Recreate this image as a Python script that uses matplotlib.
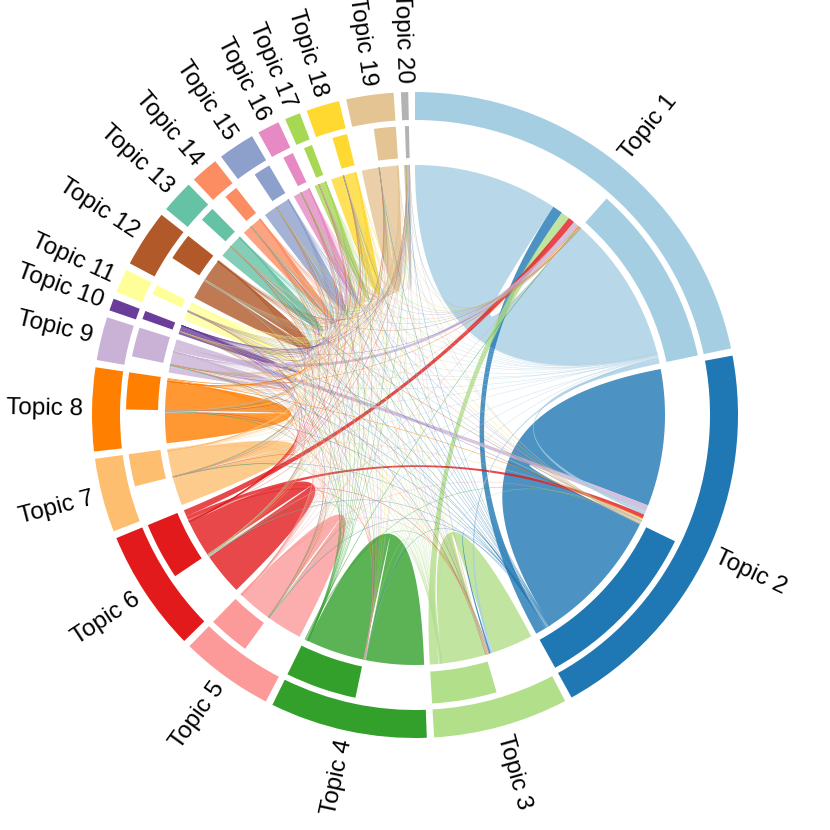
import numpy as np
import matplotlib
matplotlib.use('Agg')
import matplotlib.pyplot as plt
from matplotlib.patches import Wedge, Polygon

plt.rcParams['font.family'] = ['Liberation Sans', 'DejaVu Sans']

topics = ['Topic %d' % i for i in range(1, 21)]
colors = ['#A6CEE3', '#1F78B4', '#B2DF8A', '#33A02C', '#FB9A99', '#E31A1C', '#FDBF6F', '#FF7F00',
          '#CAB2D6', '#6A3D9A', '#FFFF99', '#B15928', '#66C2A5', '#FC8D62', '#8DA0CB', '#E78AC3',
          '#A6D854', '#FFD92F', '#E5C494', '#B3B3B3']

sizes = [78.1, 71.6, 24.3, 28.3, 16.8, 22.0, 13.3, 15.0, 7.8, 2.2,
         4.3, 10.3, 5.9, 5.0, 6.6, 4.0, 2.8, 6.0, 8.5, 1.3]
# width of the inner ring in each sector
rings = [36.6, 35.1, 13.0, 14.3, 8.3, 11.5, 6.5, 7.4, 5.9, 1.7,
         2.0, 5.4, 3.0, 2.8, 3.4, 2.1, 1.7, 3.0, 4.4, 0.8]
# first foot of the self link
self_out = [33.6, 31.8, 9.5, 13.5, 8.0, 9.8, 6.6, 7.1, 1.3, 0.5,
            1.9, 4.5, 2.7, 2.0, 3.0, 1.6, 1.0, 2.8, 3.9, 0.4]

# flows from one topic to topics 1..20
flow_t1 = [0, 2.4, 2.0, .16, .05, 1.5, .1, .2, 1.3, .02, .02, .05, .02, .02, .03, .02, .01, .03, .03, .01]
flow_t2 = [.9, 0, .15, .12, .1, .9, .15, .2, 1.4, .05, .08, .15, .08, .08, .1, .05, .03, .07, .08, .02]
flow_t3 = [.55, .35, 0, .12, .06, .14, .05, .1, .12, .02, .03, .06, .03, .03, .04, .02, .01, .03, .04, .01]
flow_t4 = [.1, .08, .08, 0, .03, .05, .02, .03, .02, .005, .005, .02, .01, .01, .01, .005, .005, .01, .01, .003]
flow_t5 = [.08, .08, .05, .05, 0, .05, .03, .04, .02, .005, .01, .02, .01, .01, .01, .005, .005, .01, .01, .002]
flow_t6 = [.12, .12, .08, .08, .05, 0, .05, .06, .03, .01, .01, .02, .01, .01, .01, .005, .005, .01, .015, .005]
flow_t7 = [.04, .04, .02, .02, .01, .02, 0, .02, .01, .002, .003, .005, .003, .002, .003, .002, .001, .002, .003, .001]
flow_t8 = [.09, .09, .05, .05, .02, .05, .03, 0, .03, .005, .005, .02, .01, .01, .01, .005, .005, .01, .01, .002]
flow_t9 = [.12, .12, .06, .06, .03, .06, .02, .04, 0, .005, .01, .02, .01, .01, .01, .005, .005, .01, .01, .002]
flow_t10 = [.04, .04, .02, .02, .01, .02, .01, .01, .01, 0, .002, .004, .002, .002, .002, .001, .001, .002, .002, .001]
flow_t11 = [.08, .08, .04, .04, .02, .04, .015, .02, .015, .003, 0, .01, .005, .005, .005, .003, .003, .005, .005, .001]
flow_t12 = [.08, .08, .04, .04, .02, .04, .015, .02, .015, .003, .005, 0, .005, .005, .005, .003, .003, .005, .005, .001]
flow_t13 = [.04, .04, .02, .02, .01, .02, .01, .01, .01, .002, .002, .005, 0, .003, .003, .002, .001, .003, .003, .001]
flow_t14 = [.04, .04, .02, .02, .01, .02, .01, .01, .01, .002, .002, .005, .003, 0, .003, .002, .001, .003, .003, .001]
flow_t15 = [.04, .04, .02, .02, .01, .02, .01, .01, .01, .002, .002, .005, .003, .003, 0, .002, .001, .003, .003, .001]
flow_t16 = [.06, .06, .03, .03, .015, .03, .01, .015, .01, .002, .003, .006, .003, .003, .003, 0, .002, .003, .003, .001]
flow_t17 = [.02, .02, .01, .01, .005, .01, .005, .005, .005, .001, .001, .002, .001, .001, .001, .001, 0, .001, .001, .001]
flow_t18 = [.04, .04, .02, .02, .01, .02, .01, .01, .01, .002, .002, .005, .003, .003, .003, .002, .001, 0, .003, .001]
flow_t19 = [.04, .04, .02, .02, .01, .02, .01, .01, .01, .002, .002, .005, .003, .003, .003, .002, .001, .003, 0, .001]
flow_t20 = [.02, .02, .01, .01, .005, .01, .005, .005, .005, .001, .001, .002, .001, .001, .001, .001, .001, .001, .001, 0]

flows = np.array([flow_t1, flow_t2, flow_t3, flow_t4, flow_t5, flow_t6, flow_t7, flow_t8, flow_t9, flow_t10,
                  flow_t11, flow_t12, flow_t13, flow_t14, flow_t15, flow_t16, flow_t17, flow_t18, flow_t19, flow_t20])

gap = 1.3
r_out, r_out_in = 323, 295
r_ring, r_ring_in = 289, 257
r_link = 250
r_label = 332


def point(theta, r=r_link):
    t = np.radians(theta)
    return np.column_stack([r * np.sin(t), r * np.cos(t)])


def bezier(th0, th1):
    # quadratic curve with its control point in the centre
    s = np.linspace(0, 1, 80)[:, None]
    return (1 - s) ** 2 * point(th0) + s ** 2 * point(th1)


def link(ax, a0, a1, b0, b1, color, alpha=0.8, lw=0.0):
    pts = [point(np.linspace(a0, a1, 20)), bezier(a1, b0), point(np.linspace(b0, b1, 20)), bezier(b1, a0)]
    ax.add_patch(Polygon(np.vstack(pts), closed=True, facecolor=color, edgecolor=color,
                         linewidth=lw, alpha=alpha))


fig = plt.figure(figsize=(8.3, 8.3), dpi=100)
ax = fig.add_axes([0, 0, 1, 1])
ax.set_xlim(-415, 415)
ax.set_ylim(-415, 415)
ax.axis('off')

# sector limits, clockwise from 12 o'clock
starts = []
pos = 0.0
for s in sizes:
    starts.append(pos)
    pos += s + gap
starts = np.array(starts)
ends = starts + np.array(sizes)

for i in range(20):
    ax.add_patch(Wedge((0, 0), r_out, 90 - ends[i], 90 - starts[i], width=r_out - r_out_in,
                       facecolor=colors[i], edgecolor='none'))
    ax.add_patch(Wedge((0, 0), r_ring, 90 - ends[i], 90 - (ends[i] - rings[i]), width=r_ring - r_ring_in,
                       facecolor=colors[i], edgecolor='none'))
    mid = (starts[i] + ends[i]) / 2
    x, y = point(mid, r_label)[0]
    if mid < 180:
        ax.text(x, y, topics[i], fontsize=17.5, rotation=90 - mid, rotation_mode='anchor', ha='left', va='center')
    else:
        ax.text(x, y, topics[i], fontsize=17.5, rotation=270 - mid, rotation_mode='anchor', ha='right', va='center')

# self links first
incoming = flows.sum(axis=0)
for i in range(20):
    link(ax, starts[i], starts[i] + self_out[i], ends[i] - rings[i], ends[i] - incoming[i], colors[i])

# feet of the links: outgoing after the self foot, incoming back from the sector end
out_pos = starts + np.array(self_out)
in_pos = ends.copy()
feet_in = {}
for j in range(20):
    for i in np.argsort(-flows[:, j]):
        w = flows[i, j]
        if w > 0:
            feet_in[(i, j)] = (in_pos[j] - w, in_pos[j])
            in_pos[j] -= w

for i in range(20):
    for j in np.argsort(-flows[i]):
        w = flows[i, j]
        if w > 0:
            b0, b1 = feet_in[(i, j)]
            # hairlines stay pale, the wide bands keep the full colour
            if w < 0.155:
                link(ax, out_pos[i], out_pos[i] + w, b0, b1, colors[j], alpha=0.25, lw=0.3)
            else:
                link(ax, out_pos[i], out_pos[i] + w, b0, b1, colors[j])
            out_pos[i] += w

fig.savefig('out.png', dpi=100)
